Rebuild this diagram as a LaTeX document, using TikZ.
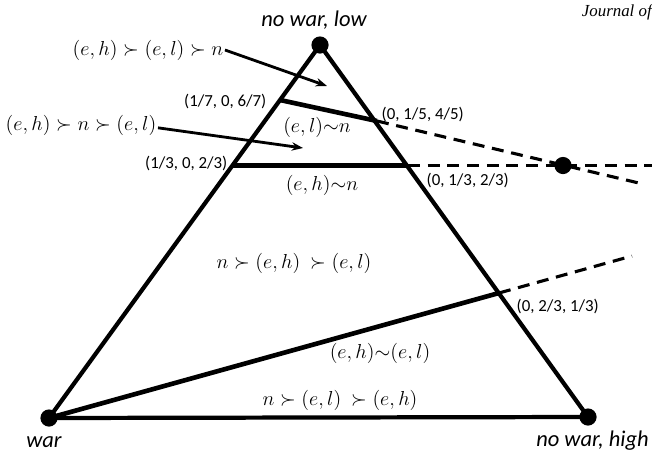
\documentclass[tikz,border=0pt]{standalone}
\usepackage[no-math]{fontspec}
\setmainfont{Carlito}
\newfontfamily\journalfont{Liberation Serif}
\usetikzlibrary{arrows.meta}

\begin{document}
\begin{tikzpicture}[
  x=0.025cm, y=-0.025cm,
  vtx/.style={circle, fill, inner sep=0pt, minimum size=0.43cm},
  side/.style={line width=3pt, line join=round},
  cut/.style={line width=3.3pt},
  ext/.style={line width=2.2pt, dash pattern=on 8.5pt off 5.5pt},
  arr/.style={-{Stealth[length=8pt,width=6pt]}, line width=2pt},
  corner/.style={font=\fontsize{16}{18}\selectfont\itshape, inner sep=0pt},
  bary/.style={font=\fontsize{12}{14}\selectfont, inner sep=1pt},
  pref/.style={font=\fontsize{13.5}{16}\selectfont, inner sep=1pt}
]
\useasboundingbox (0,0) rectangle (652,454);
% corners and points on the sides
\coordinate (low) at (320,45);
\coordinate (war) at (49,418);
\coordinate (high) at (588,417);
\coordinate (a) at (280,100);
\coordinate (b) at (377,121);
\coordinate (c) at (232,165.5);
\coordinate (d) at (408,165.5);
\coordinate (e) at (499,293);
\coordinate (fix) at (563,165.5);
\coordinate (bEnd) at (643,184);
\coordinate (dEnd) at (652,165.5);
\coordinate (eEnd) at (632,256);
\coordinate (tip1) at (327,86);
\coordinate (tip2) at (303,148);

% indifference lines
\draw[ext] (b) -- (bEnd);
\draw[ext] (d) -- (dEnd);
\draw[ext] (e) -- (eEnd);
\draw[cut] (a) -- (b);
\draw[cut] (c) -- (d);
\draw[cut] (war) -- (e);
\draw[side] (low) -- (war) -- (high) -- cycle;

\node[vtx] (lowdot) at (low) {};
\node[vtx] (wardot) at (war) {};
\node[vtx] (highdot) at (high) {};
\node[vtx] (fixdot) at (fix) {};

% corner labels
\node[corner] (lowlab) at (314,20) {no war, low};
\node[corner] (warlab) at (44,442) {war};
\node[corner, anchor=east] (highlab) at (649,441) {no war, high};

% coordinates of the cut points
\node[bary, anchor=east] (alab) at (268,101) {(1/7, 0, 6/7)};
\node[bary, anchor=west] (blab) at (380,114) {(0, 1/5, 4/5)};
\node[bary, anchor=east] (clab) at (229,163) {(1/3, 0, 2/3)};
\node[bary, anchor=west] (dlab) at (425,180) {(0, 1/3, 2/3)};
\node[bary, anchor=west] (elab) at (515,306) {(0, 2/3, 1/3)};

% preference regions
\node[pref] (r1) at (148,50) {$(e,h) \succ (e,l) \succ n$};
\node[pref] (r2) at (81,125) {$(e,h) \succ n \succ (e,l)$};
\node[pref] (i1) at (317,127) {$(e,l){\sim}n$};
\node[pref] (i2) at (322,185) {$(e,h){\sim}n$};
\node[pref] (r3) at (294,263) {$n \succ (e,h)\ \succ (e,l)$};
\node[pref] (i3) at (380,353) {$(e,h){\sim}(e,l)$};
\node[pref] (r4) at (340,400) {$n \succ (e,l)\ \succ (e,h)$};
\draw[arr] (r1.east) -- (tip1);
\draw[arr] ([yshift=-2pt]r2.east) -- (tip2);

\node[font={\journalfont\itshape\fontsize{12}{14}\selectfont}, anchor=north east,
      inner sep=0pt] (journal) at (652,4) {Journal of};
\end{tikzpicture}
\end{document}
